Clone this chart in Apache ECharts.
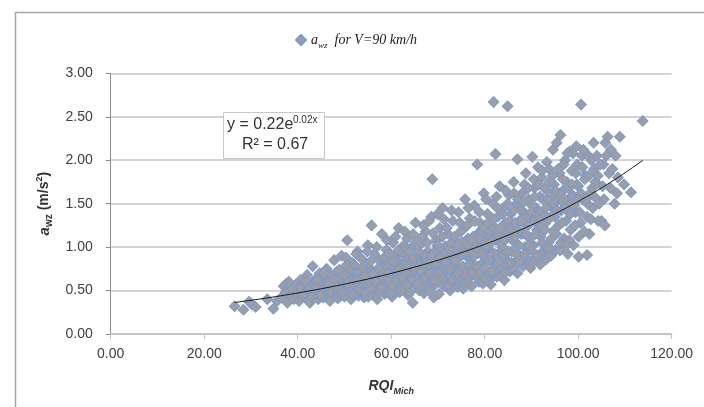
<!DOCTYPE html>
<html>
<head>
<meta charset="utf-8">
<script src="https://cdn.jsdelivr.net/npm/echarts@6/dist/echarts.min.js"></script>
<style>html,body{margin:0;padding:0;background:#fff;}#c{width:704px;height:407px;}</style>
</head>
<body>
<div id="c"></div>
<script>
// ---- data: [RQI_Mich, a_wz] ----
const bandLow = [[26.5,0.32],[28.4,0.28],[29.6,0.37],[30.2,0.34],[31.0,0.31],[33.5,0.40],[34.8,0.29],[35.6,0.38],[37.6,0.58]];
const band40 = [[36.5,0.42],[37.0,0.55],[37.4,0.48],[37.8,0.36],[38.1,0.60],[38.5,0.45],[38.9,0.52],[39.2,0.40],[39.6,0.57],[40.0,0.47],[40.3,0.38],[40.6,0.62],[40.9,0.50],[41.2,0.44],[41.5,0.55],[41.8,0.41],[42.0,0.68],[42.3,0.49],[42.6,0.36],[42.9,0.58],[43.2,0.78],[43.5,0.45],[43.8,0.63],[44.1,0.52],[44.4,0.40],[44.7,0.70],[45.0,0.48]];
const band50 = [[45.3,0.56],[45.5,0.42],[45.8,0.65],[46.0,0.50],[46.2,0.75],[46.5,0.44],[46.7,0.59],[46.9,0.38],[47.1,0.68],[47.3,0.53],[47.6,0.46],[47.8,0.85],[48.0,0.61],[48.2,0.49],[48.4,0.72],[48.6,0.41],[48.8,0.57],[49.0,0.66],[49.2,0.45],[49.4,0.90],[49.6,0.52],[49.8,0.62],[50.0,0.43],[50.2,0.78],[50.4,0.55],[50.6,1.08],[50.8,0.48],[51.0,0.68],[51.2,0.59],[51.4,0.40],[51.6,0.82],[51.8,0.51],[52.0,0.64],[52.2,0.46],[52.4,0.73],[52.6,0.56],[52.8,0.95],[53.0,0.44],[53.2,0.61],[53.4,0.69]];
const band60 = [[53.6,0.50],[53.8,0.86],[54.0,0.58],[54.2,0.42],[54.4,0.75],[54.6,0.63],[54.8,0.52],[55.0,1.02],[55.2,0.47],[55.4,0.68],[55.6,0.57],[55.8,1.25],[56.0,0.45],[56.2,0.62],[56.4,0.92],[56.6,0.54],[56.8,0.71],[57.0,0.40],[57.2,0.66],[57.4,0.85],[57.6,0.50],[57.8,0.60],[58.0,1.15],[58.2,0.77],[58.4,0.55],[58.6,0.46],[58.8,0.69],[59.0,0.97],[59.2,0.58],[59.4,0.82],[59.6,0.49],[59.8,0.64],[60.0,0.74],[60.2,0.43],[60.4,1.05],[60.6,0.60],[60.8,0.88],[61.0,0.53],[61.2,0.70],[61.4,0.65],[61.6,1.22],[61.8,0.48],[62.0,0.79],[62.2,0.58],[62.4,0.93],[62.6,0.67],[62.8,0.52],[63.0,0.84],[63.2,0.62],[63.4,1.10],[63.6,0.45],[63.8,0.73],[64.0,0.57],[64.2,0.99],[64.4,0.68],[64.6,0.36],[64.8,0.81],[65.0,0.61],[65.2,1.28],[65.4,0.55],[65.6,0.76],[65.8,0.90],[66.0,0.50],[66.2,0.70],[66.4,1.04],[66.6,0.63],[66.8,0.85],[67.0,0.47],[67.2,0.74],[67.4,1.18]];
const band75 = [[67.6,0.59],[67.8,0.95],[68.0,0.66],[68.2,0.52],[68.4,0.80],[68.6,1.35],[68.8,1.78],[69.0,0.71],[69.1,0.42],[69.2,0.88],[69.4,0.57],[69.6,1.08],[69.8,0.63],[70.0,0.78],[70.2,0.46],[70.4,1.22],[70.6,0.92],[70.8,0.68],[71.0,1.45],[71.2,0.55],[71.4,0.84],[71.6,1.01],[71.8,0.73],[72.0,0.60],[72.2,1.15],[72.4,0.88],[72.6,0.50],[72.8,0.97],[73.0,0.69],[73.2,1.30],[73.4,0.79],[73.6,0.62],[73.8,1.06],[74.0,0.86],[74.2,0.54],[74.4,1.40],[74.6,0.75],[74.8,0.95],[75.0,0.66],[75.2,1.20],[75.4,0.52],[75.6,0.58],[75.8,1.55],[76.0,0.90],[76.2,0.72],[76.4,1.10],[76.6,0.64],[76.8,1.33],[77.0,0.85],[77.2,0.55],[77.4,1.00],[77.6,0.77],[77.8,1.48],[78.0,0.68],[78.4,1.95],[78.5,0.93],[78.6,1.16],[78.8,0.60],[79.0,1.28],[79.2,0.80],[79.4,1.05],[79.6,0.58],[79.8,1.62],[80.0,0.88],[80.2,1.13],[80.4,0.70],[80.6,1.38],[80.8,0.98],[81.0,0.62],[81.2,1.25],[81.3,0.57],[81.4,0.84],[81.9,2.67],[81.8,1.50],[82.0,0.76],[82.3,2.07],[82.4,1.08],[82.6,0.66],[82.8,1.35],[83.0,0.93],[83.2,1.70],[83.4,0.74],[83.6,1.18],[83.8,1.00],[84.0,1.45],[84.2,0.62],[84.4,1.28],[84.6,0.86],[84.9,2.62],[85.0,1.12],[85.2,1.60],[85.4,0.72],[85.6,1.38],[85.8,0.95],[86.0,1.22]];
const band90 = [[86.2,1.75],[86.4,0.82],[86.6,1.05],[86.8,1.50],[87.0,0.70],[87.0,2.01],[87.4,1.30],[87.6,0.90],[87.8,1.15],[88.0,1.62],[88.2,0.78],[88.4,1.40],[88.6,1.00],[88.8,1.85],[89.0,1.25],[89.2,0.85],[89.4,1.55],[89.6,1.10],[89.8,0.76],[90.0,1.35],[90.2,2.04],[90.4,1.02],[90.6,1.68],[90.8,0.88],[91.0,1.45],[91.2,1.20],[91.4,1.92],[91.6,0.82],[91.9,0.80],[91.8,1.58],[92.0,1.12],[92.2,1.80],[92.4,0.95],[92.6,1.38],[93.3,1.98],[93.0,1.28],[93.2,0.86],[93.4,1.65],[93.6,1.05],[93.8,1.90],[94.0,1.48],[94.2,0.90],[94.6,2.12],[94.6,1.18],[94.8,1.72],[95.0,1.35]];
const band100 = [[95.2,0.97],[95.4,2.20],[95.6,1.55],[95.8,1.25],[96.0,1.85],[96.1,0.96],[96.4,1.42],[96.2,2.29],[96.8,1.65],[97.0,1.10],[97.2,2.00],[97.4,1.30],[97.6,1.75],[97.8,0.92],[98.0,1.50],[98.2,2.10],[98.4,1.20],[98.6,1.88],[98.8,1.60],[99.0,1.02],[99.6,2.16],[99.4,1.40],[99.8,1.95],[100.1,0.89],[100.0,1.70],[100.6,2.64],[100.5,1.28],[100.8,2.05],[101.0,1.55],[101.9,0.91],[101.6,1.82],[101.9,1.35],[102.2,2.05],[102.5,1.62],[102.8,2.00],[103.1,1.45],[103.4,1.90],[103.7,1.75],[104.0,2.05],[104.5,1.50],[105.0,1.30],[105.7,1.25],[105.4,1.95],[105.8,2.20],[106.3,2.27],[106.6,1.85],[107.0,2.12],[107.8,1.50],[108.0,2.05],[108.9,2.27],[108.5,1.80],[109.8,1.72],[111.3,1.63],[113.8,2.45]];
const coreBand = [[44.5,0.55],[45.1,0.47],[45.9,0.60],[46.6,0.52],[47.4,0.57],[47.9,0.50],[48.7,0.63],[49.3,0.55],[49.9,0.59],[50.5,0.66],[51.1,0.54],[51.7,0.62],[52.3,0.58],[52.9,0.70],[53.5,0.63],[54.1,0.55],[54.7,0.69],[55.3,0.61],[55.9,0.73],[56.5,0.66],[57.1,0.58],[57.7,0.72],[58.3,0.64],[58.9,0.78],[59.5,0.70],[60.1,0.62],[60.7,0.77],[61.3,0.84],[61.9,0.68],[62.5,0.75],[63.1,0.71],[63.7,0.88],[64.3,0.78],[64.9,0.70],[65.5,0.86],[66.1,0.80],[66.7,0.74],[67.3,0.90],[67.9,0.83],[68.5,0.76],[69.1,0.94],[69.7,0.86],[70.3,0.99],[70.9,0.81],[71.5,0.93],[72.1,0.85],[72.7,1.04],[73.3,0.92],[73.9,0.97],[74.5,0.88],[75.1,1.06],[75.7,0.98],[76.3,1.02],[76.9,0.93],[77.5,1.12],[78.1,1.03],[78.7,0.97],[79.3,1.16],[79.9,1.06],[80.5,1.00],[81.1,1.18],[81.7,1.10],[82.3,1.22],[82.9,1.14],[83.5,1.05],[84.1,1.25],[84.7,1.17],[85.3,1.30],[85.9,1.08],[86.5,1.28],[87.1,1.20],[87.7,1.42],[88.3,1.16],[88.9,1.35],[89.5,1.26],[90.1,1.48],[90.7,1.30],[91.3,1.40],[91.9,1.25],[92.5,1.55],[93.1,1.45],[93.7,1.32],[94.3,1.60],[94.9,1.50],[95.5,1.42],[96.1,1.62],[96.7,1.52],[97.3,1.45],[97.9,1.68],[98.5,1.58],[99.1,1.48],[99.7,1.72],[100.6,1.62],[101.4,1.78],[102.0,1.50],[103.0,1.68],[104.2,1.82],[105.2,1.70]];
const lowerEdge = [[55.1,0.43],[57.5,0.48],[59.9,0.46],[62.1,0.50],[64.1,0.48],[66.3,0.55],[68.3,0.49],[70.7,0.58],[72.3,0.55],[74.1,0.62],[76.1,0.60],[78.3,0.66],[80.1,0.64],[82.1,0.72],[84.3,0.70],[86.1,0.76],[88.1,0.85],[90.3,0.82],[92.1,0.92],[94.1,0.98],[96.3,1.05],[98.1,1.08],[100.1,1.12],[102.4,1.15]];
const upperEdge = [[50.3,0.88],[52.5,0.92],[54.9,0.95],[56.9,1.00],[59.1,1.08],[60.9,1.12],[62.9,1.18],[64.7,1.15],[66.9,1.25],[68.1,1.30],[69.9,1.38],[71.3,1.32],[72.9,1.42],[74.7,1.28],[76.5,1.45],[78.9,1.40],[80.3,1.55],[82.5,1.58],[84.5,1.65],[86.3,1.62],[88.5,1.72],[90.5,1.78],[92.3,1.88],[94.5,1.82],[96.9,1.95],[98.9,2.08],[101.1,2.12],[103.3,2.20]];
const fillA = [[40.5,0.54],[41.0,0.45],[41.7,0.60],[42.5,0.52],[43.0,0.42],[43.7,0.55],[44.2,0.62],[44.9,0.44],[45.6,0.70],[46.3,0.58],[47.0,0.48],[47.7,0.63],[48.3,0.54],[48.9,0.74],[49.5,0.48],[50.1,0.68],[50.7,0.58],[51.3,0.74],[51.9,0.45],[52.1,0.80],[52.7,0.62],[53.3,0.52],[53.9,0.77],[54.3,0.66],[54.5,0.48],[55.5,0.83],[55.7,0.52],[56.1,0.69],[56.7,0.60],[57.3,0.76],[57.9,0.53],[58.5,0.88],[59.3,0.62],[59.7,0.92],[60.3,0.56],[60.5,0.83]];
const fillB = [[61.1,0.62],[61.5,0.96],[61.7,0.74],[62.3,0.64],[62.7,1.02],[63.3,0.56],[63.5,0.80],[63.9,0.95],[64.5,0.63],[64.7,0.87],[65.1,0.74],[65.3,1.06],[65.7,0.59],[65.9,0.95],[66.5,0.72],[66.6,1.12],[67.1,0.64],[67.5,0.82],[67.7,1.05],[68.3,0.70],[68.7,0.90],[68.9,1.16],[69.3,0.62],[69.5,0.80],[69.9,1.02],[70.1,0.70],[70.5,0.88],[70.9,1.12],[71.1,0.64],[71.7,0.83],[71.9,1.22],[72.5,0.74],[72.5,0.96],[73.1,0.62],[73.5,1.12],[73.7,0.84],[74.3,0.70],[74.3,1.02],[74.9,1.18],[75.3,0.78],[75.5,0.92],[75.9,0.68],[76.3,1.25],[76.7,0.80],[77.1,1.08],[77.3,0.70],[77.7,0.90],[77.9,1.30],[78.3,0.78],[78.7,1.10],[78.9,0.70],[79.5,0.92],[79.7,1.22],[80.0,0.76],[80.7,1.28],[80.9,0.85]];
const fillC = [[81.3,1.05],[81.5,0.72],[81.9,1.32],[82.2,0.92],[82.7,1.45],[82.9,0.82],[83.3,1.22],[83.7,0.90],[83.9,1.38],[84.3,1.08],[84.7,0.80],[84.9,1.50],[85.1,0.95],[85.5,1.20],[85.7,0.82],[86.1,1.42],[86.5,1.12],[86.7,0.92],[87.1,1.55],[87.3,1.02],[87.5,0.84],[87.9,1.30],[88.3,1.52],[88.7,0.92],[88.9,1.15],[89.3,1.68],[89.5,1.02],[89.9,1.40],[90.3,0.95],[90.7,1.58],[90.9,1.15],[91.3,0.90],[91.5,1.72],[91.7,1.32],[92.3,1.05],[92.7,1.68],[92.9,1.20],[93.5,1.55],[93.5,0.98],[93.9,1.75],[94.3,1.10],[94.7,1.38],[95.1,1.65],[95.3,1.15],[95.7,1.90],[96.5,1.28],[96.7,1.78],[97.1,1.55],[97.5,1.02],[97.7,2.08],[98.3,1.38],[98.7,1.72],[99.3,1.25],[99.5,1.85],[99.9,1.55],[100.3,1.40],[100.9,1.92],[101.3,1.18],[101.7,1.55],[102.3,1.82],[102.7,1.32],[103.5,1.58],[104.3,1.30],[104.7,1.95],[105.5,1.55],[106.0,2.05],[106.9,1.68],[107.3,1.90],[108.3,1.62]];

const xTicks = [0, 20, 40, 60, 80, 100, 120];
const yTicks = [0, 0.5, 1, 1.5, 2, 2.5, 3];
const seriesName = 'awz';
const eqLine1 = 'y = 0.22e';
const eqSup = '0.02x';
const eqLine2 = 'R² = 0.67';

// ---- build ----
const points = [].concat(bandLow, band40, band50, band60, band75, band90, band100, coreBand, lowerEdge, upperEdge, fillA, fillB, fillC);

// exponential least-squares fit (as the spreadsheet trendline does)
let n = points.length, sx = 0, sy = 0, sxx = 0, sxy = 0, xmin = Infinity, xmax = -Infinity;
points.forEach(p => { const L = Math.log(p[1]); sx += p[0]; sy += L; sxx += p[0]*p[0]; sxy += p[0]*L; xmin = Math.min(xmin, p[0]); xmax = Math.max(xmax, p[0]); });
const bFit = (n*sxy - sx*sy) / (n*sxx - sx*sx);
const aFit = Math.exp((sy - bFit*sx) / n);
const trend = [];
for (let x = xmin; x <= xmax + 1e-9; x += (xmax - xmin) / 80) trend.push([x, aFit*Math.exp(bFit*x)]);

const chart = echarts.init(document.getElementById('c'));
const labelFont = 'Liberation Sans';
chart.setOption({
  animation: false,
  grid: { left: 110.7, right: 32.3, top: 73.3, bottom: 73, containLabel: false },
  legend: {
    data: [seriesName], left: 290, top: 28, itemWidth: 10, itemHeight: 10, itemGap: 6,
    icon: 'path://M5,0 L10,5 L5,10 L0,5 Z',
    formatter: () => '{a|a}{s|wz}{b|  for V=90 km/h}',
    textStyle: {
      rich: {
        a: { fontFamily: 'Liberation Serif', fontStyle: 'italic', fontSize: 14, color: '#222', lineHeight: 20, verticalAlign: 'middle' },
        s: { fontFamily: 'Liberation Serif', fontStyle: 'italic', fontSize: 9, color: '#222', lineHeight: 20, verticalAlign: 'bottom' },
        b: { fontFamily: 'Liberation Serif', fontStyle: 'italic', fontSize: 14, color: '#222', lineHeight: 20, verticalAlign: 'middle' }
      }
    }
  },
  xAxis: {
    type: 'value', min: xTicks[0], max: xTicks[xTicks.length-1], interval: xTicks[1]-xTicks[0],
    name: '{b|RQI}{s|Mich}', nameLocation: 'middle', nameGap: 42,
    nameTextStyle: { rich: {
      b: { fontFamily: labelFont, fontWeight: 'bold', fontStyle: 'italic', fontSize: 14, color: '#333', lineHeight: 20, verticalAlign: 'middle' },
      s: { fontFamily: labelFont, fontWeight: 'bold', fontStyle: 'italic', fontSize: 9, color: '#333', lineHeight: 20, verticalAlign: 'bottom' }
    } },
    axisLine: { show: true, lineStyle: { color: '#bfbfbf', width: 1.5 } },
    axisTick: { show: true, length: 5, lineStyle: { color: '#bfbfbf' } },
    axisLabel: { formatter: v => v.toFixed(2), fontFamily: labelFont, fontSize: 14, color: '#404040', margin: 13 },
    splitLine: { show: false }
  },
  yAxis: {
    type: 'value', min: yTicks[0], max: yTicks[yTicks.length-1], interval: yTicks[1]-yTicks[0],
    name: '{a|a}{s|wz}{b| (m/s}{p|2}{b|)}', nameLocation: 'middle', nameGap: 56, nameRotate: 90,
    nameTextStyle: { rich: {
      a: { fontFamily: labelFont, fontWeight: 'bold', fontStyle: 'italic', fontSize: 15, color: '#333', lineHeight: 20, verticalAlign: 'middle' },
      s: { fontFamily: labelFont, fontWeight: 'bold', fontSize: 10, color: '#333', lineHeight: 20, verticalAlign: 'bottom' },
      b: { fontFamily: labelFont, fontWeight: 'bold', fontSize: 14, color: '#333', lineHeight: 20, verticalAlign: 'middle' },
      p: { fontFamily: labelFont, fontWeight: 'bold', fontSize: 9, color: '#333', lineHeight: 20, verticalAlign: 'top' }
    } },
    axisLine: { show: true, lineStyle: { color: '#8c8c8c', width: 1 } },
    axisTick: { show: true, length: 5, lineStyle: { color: '#8c8c8c' } },
    axisLabel: { formatter: v => v.toFixed(2), fontFamily: labelFont, fontSize: 14, color: '#404040', margin: 18 },
    splitLine: { show: true, lineStyle: { color: '#c4c4c4', width: 1.5 } }
  },
  series: [
    { name: seriesName, type: 'scatter', data: points, symbol: 'rect', symbolSize: 7.5, symbolRotate: 45,
      itemStyle: { color: '#9d9da3', borderColor: '#7a9bd0', borderWidth: 1, opacity: 1 }, z: 2 },
    { name: 'trend', type: 'line', data: trend, showSymbol: false, smooth: false, silent: true,
      lineStyle: { color: '#1a1a1a', width: 1 }, z: 5 }
  ],
  graphic: [
    { type: 'rect', left: 13, top: 10, shape: { width: 700, height: 396 }, style: { fill: 'none', stroke: '#a6a6a6', lineWidth: 1.5 }, silent: true, z: -10 },
    { type: 'rect', left: 223, top: 112, shape: { width: 101, height: 46 }, style: { fill: '#fff', stroke: '#c8c8c8', lineWidth: 1 }, z: 10 },
    { type: 'text', left: 227, top: 117, style: { text: eqLine1, font: '16px "Liberation Sans"', fill: '#333' }, z: 11 },
    { type: 'text', left: 293, top: 115, style: { text: eqSup, font: '10px "Liberation Sans"', fill: '#333' }, z: 11 },
    { type: 'text', left: 242, top: 137, style: { text: eqLine2, font: '16px "Liberation Sans"', fill: '#333' }, z: 11 }
  ]
});
</script>
</body>
</html>
